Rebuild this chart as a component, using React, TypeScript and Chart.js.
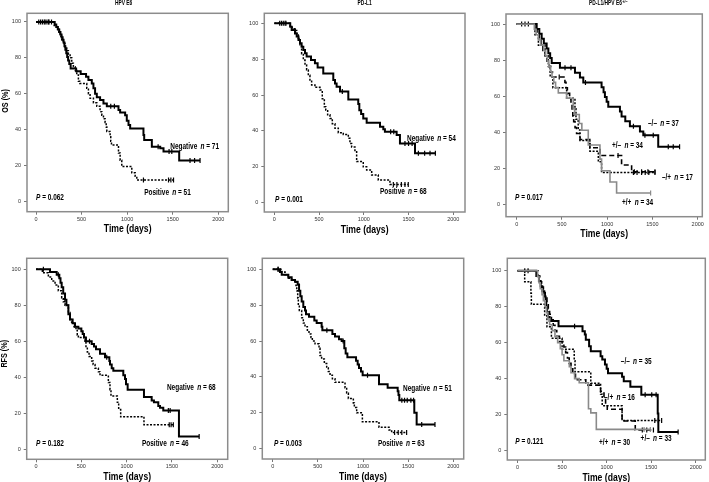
import React, { useEffect, useRef } from "react";
import { Chart, registerables } from "chart.js";
Chart.register(...registerables);

const FF = "'Liberation Sans', Arial, sans-serif";
const SQUEEZE = 0.72;

// ---------- axis ticks ----------
const xTickValues = [0, 500, 1000, 1500, 2000];
const yTickValues = [0, 20, 40, 60, 80, 100];
const xAxisTitle = "Time (days)";

// ---------- Panel 1: OS, HPV E6 ----------
const osHpvNegSteps: [number, number][] = [[205,98.6],[222,97.2],[240,95.8],[255,94.4],[268,93],[280,91.5],[292,90],[302,88.5],[312,86.5],[322,84.5],[332,82.5],[342,80.5],[352,78.5],[365,76.5],[380,74],[440,72.5],[490,71],[549,69.5],[575,67.6],[612,65.7],[630,63],[648,60],[667,58],[703,56.5],[740,54.6],[777,53],[905,51],[923,49.5],[978,48],[996,45],[1015,42.6],[1033,40.7],[1179,37],[1187,34.3],[1271,30.5],[1363,29.6],[1399,27.8],[1571,22.8]];
const osHpvNegCens = [30,70,90,120,140,170,820,860,1340,1460,1490,1690,1740,1800];
const osHpvPosSteps: [number, number][] = [[200,98],[227,96],[250,94],[264,92],[282,90],[300,88],[319,86],[337,84],[355,82],[374,80],[392,77],[410,75],[430,73],[447,70.5],[465,67],[480,65.7],[557,63],[575,60],[593,57.5],[630,55],[667,53],[703,50],[722,48],[740,46],[758,44],[770,41.5],[777,39],[813,36],[820,33.5],[828,31.5],[905,27],[923,23],[941,19.5],[1051,16],[1088,14],[1106,12]];
const osHpvPosCens = [50,100,140,1179,1454,1480,1509];

// ---------- Panel 2: OS, PD-L1 ----------
const osPdNegSteps: [number, number][] = [[178,98.1],[194,96.3],[231,94.4],[250,92.6],[270,90.7],[287,88.9],[305,87],[324,85.2],[343,83.3],[361,81.5],[410,79.6],[454,77.8],[484,75.4],[547,72],[659,68.4],[678,66.5],[696,64.7],[734,62],[827,57.6],[938,55],[950,51.6],[970,49.5],[994,47],[1032,44.6],[1181,42.3],[1218,40.9],[1236,39.5],[1367,37.7],[1404,33],[1572,27.5]];
const osPdNegCens = [80,120,760,1300,1335,1460,1500,1540,1610,1680,1740,1800];
const osPdPosSteps: [number, number][] = [[175,98.5],[200,97],[231,96],[250,94.4],[268,91.6],[287,88],[305,83],[324,79.5],[343,76.8],[361,74],[380,71],[398,68.4],[417,65.6],[454,64.3],[510,62.8],[536,58],[559,53.5],[575,51.7],[596,49],[622,47],[648,44],[678,41.5],[715,39],[771,38],[827,35.9],[845,33],[864,31],[901,28.4],[920,22.9],[994,20],[1032,18.2],[1088,15.4],[1162,12.6],[1292,10.2]];
const osPdPosCens = [60,100,130,1330,1370,1420,1460,1497];

// ---------- Panel 3: OS, PD-L1/HPV E6 ----------
const osMMSteps: [number, number][] = [[221,97.3],[250,94.6],[276,91.9],[300,89.2],[331,86.5],[350,83.8],[370,81.1],[387,78.4],[478,75.7],[644,73],[699,70.3],[736,67.6],[938,64.9],[960,62.2],[975,59.5],[994,56.8],[1012,54.1],[1141,51.4],[1159,48.7],[1200,46],[1251,43.3],[1362,40.3],[1399,38.2],[1564,31.9]];
const osMMCens = [55,92,129,534,600,760,1290,1417,1509,1675,1730,1800];
const osPMSteps: [number, number][] = [[200,97],[225,94.1],[250,91.2],[270,88.2],[290,85.3],[315,82.4],[335,79.4],[355,76.5],[375,73.5],[395,70.6],[533,67.6],[545,64.6],[560,61.5],[585,58.5],[600,55.4],[612,52.3],[620,49],[630,45.8],[645,42.5],[662,39.2],[700,35.9],[809,31.3],[920,27],[1159,21.7],[1270,18]];
const osPMCens = [470,1120,1300,1380,1450,1528];
const osMPSteps: [number, number][] = [[202,94.1],[240,88.2],[313,82.4],[350,76.5],[370,70.6],[400,64.7],[552,58.8],[644,52.9],[655,47.1],[680,41.2],[699,35.3],[809,29.4],[902,23.5],[938,17.6]];
const osMPCens = [1290,1330,1380,1420,1460,1528];
const osPPSteps: [number, number][] = [[195,97.1],[215,94.1],[240,91.2],[265,88.2],[300,85.3],[320,82.4],[340,79.4],[355,76.5],[375,73.5],[390,70.6],[410,67.6],[430,64.7],[460,61.8],[552,58.8],[625,52.9],[640,49.8],[692,44.8],[720,41],[791,32.8],[920,25],[938,18.5],[1031,12.3],[1104,6.2]];
const osPPCens = [1480];

// ---------- Panel 4: RFS, HPV E6 ----------
const rfsHpvNegSteps: [number, number][] = [[154,98.5],[228,97],[257,95],[270,92.5],[283,90],[300,86.5],[320,83],[335,80],[357,75],[375,72],[404,70],[430,68],[467,67],[500,65.5],[515,64],[529,62],[551,60],[614,58.5],[640,57],[662,55.5],[706,53],[761,51],[809,49],[816,47],[835,45],[853,43.5],[963,41],[982,39],[993,36],[1011,33],[1191,29],[1276,27],[1301,26],[1349,24],[1368,23],[1404,21.5],[1577,7]];
const rfsHpvNegCens = [81,246,590,780,1460,1480,1800];
const rfsHpvPosSteps: [number, number][] = [[70,98],[136,95.7],[173,93.5],[210,91.3],[246,88],[283,84],[300,82],[320,80],[357,76],[375,72],[393,70],[419,68],[441,66],[455,63.5],[467,62],[540,60],[551,57],[566,54],[585,51.5],[614,49],[630,47],[651,45],[688,43],[706,41],[798,37],[816,33],[827,29.5],[897,26],[912,22],[934,18],[1191,13.5]];
const rfsHpvPosCens = [1470,1490,1515];

// ---------- Panel 5: RFS, PD-L1 ----------
const rfsPdNegSteps: [number, number][] = [[81,98.5],[100,97],[173,95.5],[210,94],[247,93],[277,91.5],[292,88],[306,85],[321,82],[339,79],[358,77],[369,75],[402,73.5],[461,71.5],[487,70],[542,68],[550,66],[661,64],[690,62.5],[734,61],[764,60],[793,56],[808,53],[827,51],[923,49],[941,47],[956,45],[978,43],[996,41],[1177,36],[1273,34],[1384,32],[1393,30],[1402,27],[1568,20],[1594,13.5]];
const rfsPdNegCens = [60,600,780,1050,1430,1460,1490,1530,1560,1650,1797];
const rfsPdPosSteps: [number, number][] = [[100,98.5],[137,97],[173,95],[210,94],[240,93],[258,91],[266,88],[277,84],[284,80],[295,77],[321,73],[339,70],[358,68],[384,66],[402,64],[424,62],[439,60],[469,58.5],[513,56],[524,52],[542,50],[572,47.5],[598,45],[616,43],[635,41],[661,39],[690,37],[801,34],[819,31],[838,28],[893,25.5],[904,23],[930,20],[993,15],[1177,12],[1288,10.5],[1317,9]];
const rfsPdPosCens = [60,1350,1390,1430,1483];

// ---------- Panel 6: RFS, PD-L1/HPV E6 ----------
const rfsMMSteps: [number, number][] = [[211,97.1],[240,94.3],[260,91.4],[278,88.6],[300,85.7],[315,82.9],[322,80],[330,77.1],[340,74.3],[360,72],[460,69.2],[729,66.4],[755,64.5],[766,61.7],[803,58],[822,55.3],[932,52.5],[951,50.6],[981,47.9],[1000,45.5],[1015,43],[1173,41],[1192,38.5],[1266,35.5],[1389,31],[1573,20.7],[1580,10.3]];
const rfsMMCens = [81,118,640,1432,1506,1555,1802];
const rfsMPSteps: [number, number][] = [[80,93.8],[150,87.5],[155,81.3],[304,75],[330,68.8],[380,62.5],[500,56.3],[636,50],[645,43.8],[822,37.5],[932,31.3],[950,25],[1173,16.7]];
const rfsMPCens = [1540,1580,1617];
const rfsPMSteps: [number, number][] = [[230,97],[250,93.9],[270,90.9],[290,87.9],[310,84.8],[330,81.8],[345,78.8],[360,75.8],[380,72.7],[400,69.7],[420,66.7],[440,63.6],[470,60.6],[520,57.6],[540,54.5],[560,51.5],[580,48.5],[600,45.5],[620,42.4],[650,39.4],[766,36.4],[932,33],[970,29.4],[988,25.7],[1007,23],[1173,16.5],[1321,11.5]];
const rfsPMCens = [1400,1450,1525];
const rfsPPSteps: [number, number][] = [[225,96.7],[240,93.3],[255,90],[275,86.7],[290,83.3],[310,80],[325,76.7],[340,73.3],[360,70],[390,66.7],[420,63.3],[450,60],[480,56.7],[500,53.3],[520,50],[581,46.7],[600,43.3],[640,40],[692,37.7],[796,23.3],[822,21],[884,11.8]];
const rfsPPCens = [1420,1490];

// ---------- line styles ----------
const STYLE: Record<string, { color: string; width: number; dash: number[] }> = {
  neg: { color: "#000", width: 2, dash: [] },
  pos: { color: "#000", width: 1.5, dash: [2, 1.5] },
  mm: { color: "#000", width: 2, dash: [] },
  pm: { color: "#000", width: 1.6, dash: [5, 3] },
  mp: { color: "#000", width: 1.5, dash: [2, 1.5] },
  pp: { color: "#8a8a8a", width: 1.6, dash: [] },
};

function survAt(steps: [number, number][], t: number) {
  let s = 100;
  for (const [tt, ss] of steps) if (tt <= t) s = ss;
  return s;
}

function kmData(steps: [number, number][], cens: number[]) {
  const pts: any[] = [{ x: 0, y: 100, c: 0 }];
  steps.forEach(([t, s]) => pts.push({ x: t, y: s, c: 0 }));
  cens.forEach((t) => pts.push({ x: t, y: survAt(steps, t), c: 1 }));
  pts.sort((a, b) => a.x - b.x || a.c - b.c);
  return pts;
}

const panels = [
  {
    cell: [0, 0, 235, 240], frame: [27, 13.3, 228.3, 211.7], xr: [-99, 2110], yr: [-5.7, 104.8],
    title: "HPV E6", sup: "", titleDx: -4, yTitle: "OS (%)", yTitleAt: 56,
    curves: [
      { steps: osHpvPosSteps, cens: osHpvPosCens, style: "pos" },
      { steps: osHpvNegSteps, cens: osHpvNegCens, style: "neg" },
    ],
    labels: [
      { text: "Negative n = 71", x: 1473, y: 30.4 },
      { text: "Positive n = 51", x: 1187, y: 4.8 },
      { text: "P = 0.062", x: 0, y: 2 },
    ],
  },
  {
    cell: [235, 0, 235, 240], frame: [264.3, 13.3, 465, 212], xr: [-112, 2131], yr: [-5.2, 105.6],
    title: "PD-L1", sup: "", titleDx: 0, yTitle: "", yTitleAt: 0,
    curves: [
      { steps: osPdPosSteps, cens: osPdPosCens, style: "pos" },
      { steps: osPdNegSteps, cens: osPdNegCens, style: "neg" },
    ],
    labels: [
      { text: "Negative n = 54", x: 1483, y: 36 },
      { text: "Positive n = 68", x: 1181, y: 6 },
      { text: "P = 0.001", x: 8, y: 2 },
    ],
  },
  {
    cell: [470, 0, 239, 240], frame: [506, 14, 702.3, 216.7], xr: [-118, 2051], yr: [-7, 105.6],
    title: "PD-L1/HPV E6", sup: "+/\u2013", titleDx: 4, yTitle: "", yTitleAt: 0,
    curves: [
      { steps: osPPSteps, cens: osPPCens, style: "pp" },
      { steps: osMPSteps, cens: osMPCens, style: "mp" },
      { steps: osPMSteps, cens: osPMCens, style: "pm" },
      { steps: osMMSteps, cens: osMMCens, style: "mm" },
    ],
    labels: [
      { text: "\u2013/\u2013 n = 37", x: 1451, y: 44.7 },
      { text: "+/\u2013 n = 34", x: 1053, y: 32.5 },
      { text: "\u2013/+ n = 17", x: 1605, y: 15 },
      { text: "+/+ n = 34", x: 1164, y: 1 },
      { text: "P = 0.017", x: -18, y: 3.9 },
    ],
  },
  {
    cell: [0, 240, 235, 242], frame: [26.7, 258.3, 227.7, 459.3], xr: [-103, 2115], yr: [-5.7, 106.1],
    title: "", sup: "", titleDx: 0, yTitle: "RFS (%)", yTitleAt: 53,
    curves: [
      { steps: rfsHpvPosSteps, cens: rfsHpvPosCens, style: "pos" },
      { steps: rfsHpvNegSteps, cens: rfsHpvNegCens, style: "neg" },
    ],
    labels: [
      { text: "Negative n = 68", x: 1444, y: 34 },
      { text: "Positive n = 46", x: 1169, y: 3.3 },
      { text: "P = 0.182", x: 0, y: 3.3 },
    ],
  },
  {
    cell: [235, 240, 235, 242], frame: [262.3, 258.3, 463.7, 459], xr: [-115, 2115], yr: [-5.7, 106.1],
    title: "", sup: "", titleDx: 0, yTitle: "", yTitleAt: 0,
    curves: [
      { steps: rfsPdPosSteps, cens: rfsPdPosCens, style: "pos" },
      { steps: rfsPdNegSteps, cens: rfsPdNegCens, style: "neg" },
    ],
    labels: [
      { text: "Negative n = 51", x: 1443, y: 33.8 },
      { text: "Positive n = 63", x: 1165, y: 3.2 },
      { text: "P = 0.003", x: 14, y: 3.2 },
    ],
  },
  {
    cell: [470, 240, 239, 242], frame: [507.3, 258.3, 707.3, 460], xr: [-115, 2107], yr: [-5.2, 106.9],
    title: "", sup: "", titleDx: 0, yTitle: "", yTitleAt: 0,
    curves: [
      { steps: rfsPPSteps, cens: rfsPPCens, style: "pp" },
      { steps: rfsMPSteps, cens: rfsMPCens, style: "mp" },
      { steps: rfsPMSteps, cens: rfsPMCens, style: "pm" },
      { steps: rfsMMSteps, cens: rfsMMCens, style: "mm" },
    ],
    labels: [
      { text: "\u2013/\u2013 n = 35", x: 1159, y: 49.8 },
      { text: "\u2013/+ n = 16", x: 970, y: 29.8 },
      { text: "+/\u2013 n = 33", x: 1381, y: 7 },
      { text: "+/+ n = 30", x: 914, y: 4.3 },
      { text: "P = 0.121", x: -25, y: 4.8 },
    ],
  },
];

function drawRich(ctx: CanvasRenderingContext2D, text: string, x: number, y: number, size: number) {
  const tokens = text.split(" ");
  ctx.save();
  ctx.translate(x, y);
  ctx.scale(SQUEEZE, 1);
  ctx.textAlign = "left";
  ctx.textBaseline = "middle";
  let cx = 0;
  tokens.forEach((tok, i) => {
    const it = tok === "n" || tok === "P";
    ctx.font = `${it ? "italic " : ""}bold ${size}px ${FF}`;
    ctx.fillText(tok, cx, 0);
    cx += ctx.measureText(tok).width;
    if (i < tokens.length - 1) {
      ctx.font = `bold ${size}px ${FF}`;
      cx += ctx.measureText(" ").width * (i === 0 && tokens.length > 3 ? 1.8 : 1);
    }
  });
  ctx.restore();
}

function drawSqueezed(ctx: CanvasRenderingContext2D, text: string, x: number, y: number, font: string, sx: number) {
  ctx.save();
  ctx.translate(x, y);
  ctx.scale(sx, 1);
  ctx.font = font;
  ctx.textAlign = "center";
  ctx.textBaseline = "middle";
  ctx.fillText(text, 0, 0);
  ctx.restore();
}

function drawDecor(chart: any, p: any) {
  const ctx: CanvasRenderingContext2D = chart.ctx;
  const a = chart.chartArea;
  const xs = chart.scales.x;
  const ys = chart.scales.y;
  ctx.save();
  ctx.strokeStyle = "#8c8c8c";
  ctx.lineWidth = 1.5;
  ctx.strokeRect(a.left, a.top, a.right - a.left, a.bottom - a.top);
  ctx.fillStyle = "#000";
  const mid = (a.left + a.right) / 2;
  if (p.title) {
    const sx = 0.75;
    ctx.save();
    ctx.font = `bold 6.5px ${FF}`;
    const w1 = ctx.measureText(p.title).width * sx;
    ctx.font = `bold 5px ${FF}`;
    const w2 = p.sup ? ctx.measureText(p.sup).width * sx : 0;
    const x0 = mid + p.titleDx - (w1 + w2) / 2;
    ctx.translate(x0, a.top - 8.6);
    ctx.scale(sx, 1);
    ctx.textAlign = "left";
    ctx.textBaseline = "alphabetic";
    ctx.font = `bold 6.5px ${FF}`;
    ctx.fillText(p.title, 0, 0);
    if (p.sup) {
      ctx.font = `bold 5px ${FF}`;
      ctx.fillText(p.sup, w1 / sx + 0.5, -2.5);
    }
    ctx.restore();
  }
  drawSqueezed(ctx, xAxisTitle, mid, a.bottom + 17.5, `bold 11.5px ${FF}`, 0.75);
  if (p.yTitle) {
    ctx.save();
    ctx.translate(a.left - 22, ys.getPixelForValue(p.yTitleAt));
    ctx.rotate(-Math.PI / 2);
    drawSqueezed(ctx, p.yTitle, 0, 0, `bold 9.5px ${FF}`, 0.76);
    ctx.restore();
  }
  p.labels.forEach((l: any) => drawRich(ctx, l.text, xs.getPixelForValue(l.x), ys.getPixelForValue(l.y), 9));
  ctx.restore();
}

function Panel({ p }: { p: any }) {
  const ref = useRef<HTMLCanvasElement>(null);
  useEffect(() => {
    const [cx, cy, cw, ch] = p.cell;
    const [L, T, R, B] = p.frame;
    const datasets = p.curves.map((c: any) => {
      const st = STYLE[c.style];
      return {
        data: kmData(c.steps, c.cens),
        stepped: true,
        borderColor: st.color,
        borderWidth: st.width,
        borderDash: st.dash,
        fill: false,
        tension: 0,
        pointRadius: (ctx: any) => (ctx.raw && ctx.raw.c ? 2.5 : 0),
        pointHoverRadius: 0,
        pointStyle: "line",
        pointRotation: 90,
        pointBorderColor: st.color,
        pointBackgroundColor: st.color,
        pointBorderWidth: 1.2,
      };
    });
    const tickFont = { family: FF, size: 5.5 };
    const chart = new Chart(ref.current as HTMLCanvasElement, {
      type: "line",
      data: { datasets },
      options: {
        responsive: false,
        animation: false,
        devicePixelRatio: 1,
        events: [],
        layout: { padding: { left: 0, top: T - cy, right: cx + cw - R, bottom: 0 } },
        plugins: { legend: { display: false }, tooltip: { enabled: false }, title: { display: false } },
        scales: {
          x: {
            type: "linear",
            min: p.xr[0],
            max: p.xr[1],
            afterBuildTicks: (s: any) => { s.ticks = xTickValues.map((v) => ({ value: v })); },
            afterFit: (s: any) => { s.height = cy + ch - B; },
            ticks: { autoSkip: false, maxRotation: 0, minRotation: 0, padding: 1, font: tickFont, color: "#333", callback: (v: any) => String(v) },
            grid: { drawOnChartArea: false, drawTicks: true, tickLength: 3, color: "#777", lineWidth: 1 },
            border: { display: false },
          },
          y: {
            type: "linear",
            min: p.yr[0],
            max: p.yr[1],
            afterBuildTicks: (s: any) => { s.ticks = yTickValues.map((v) => ({ value: v })); },
            afterFit: (s: any) => { s.width = L - cx; },
            ticks: { autoSkip: false, padding: 3, font: tickFont, color: "#333", callback: (v: any) => String(v) },
            grid: { drawOnChartArea: false, drawTicks: true, tickLength: 3, color: "#777", lineWidth: 1 },
            border: { display: false },
          },
        },
      } as any,
      plugins: [{ id: "decor", afterDraw: (chart: any) => drawDecor(chart, p) }],
    });
    return () => chart.destroy();
  }, []);
  const [cx, cy, cw, ch] = p.cell;
  return (
    <canvas
      ref={ref}
      width={cw}
      height={ch}
      style={{ position: "absolute", left: cx, top: cy, width: cw, height: ch }}
    />
  );
}

export default function App() {
  return (
    <div style={{ position: "absolute", left: 0, top: 0, width: 709, height: 482, background: "#fff" }}>
      {panels.map((p, i) => (
        <Panel key={i} p={p} />
      ))}
    </div>
  );
}
